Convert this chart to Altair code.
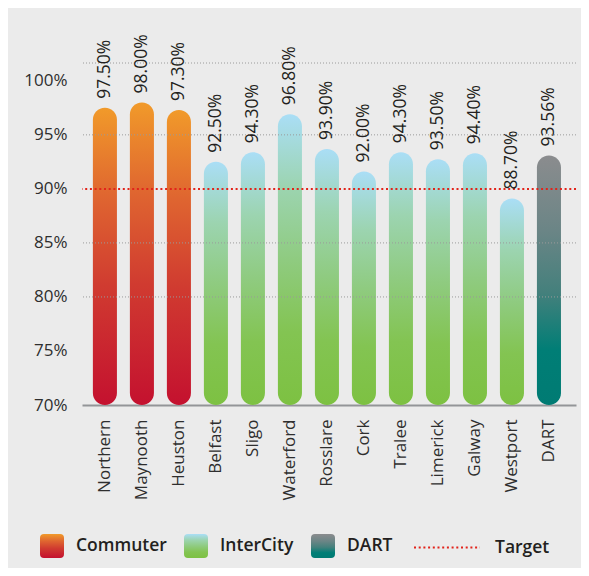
import json
import altair as alt
import pandas as pd

# ---------------- data ----------------
stations = ["Northern", "Maynooth", "Heuston", "Belfast", "Sligo", "Waterford",
            "Rosslare", "Cork", "Tralee", "Limerick", "Galway", "Westport", "DART"]
services = ["Commuter", "Commuter", "Commuter", "InterCity", "InterCity", "InterCity",
            "InterCity", "InterCity", "InterCity", "InterCity", "InterCity", "InterCity", "DART"]
# bar heights as drawn in the picture (percent)
bar_values = [97.5, 98.0, 97.3, 92.5, 93.4, 96.9, 93.7, 91.6, 93.4, 92.75, 93.3, 89.1, 93.1]
# printed value labels
value_labels = ["97.50%", "98.00%", "97.30%", "92.50%", "94.30%", "96.80%", "93.90%",
                "92.00%", "94.30%", "93.50%", "94.40%", "88.70%", "93.56%"]
legend_items = ["Commuter", "InterCity", "DART"]
target_name = ["Target"]
target_value = [90]
y_tick_values = [70, 75, 80, 85, 90, 95, 100]
Y_MIN, Y_MAX = 70, 101.65
grid_values = [80, 85, 95, Y_MAX]

# ---------------- styles ----------------
FONT = "Open Sans"
TEXT = "#231f20"
AXIS_TEXT = "#2e2e2e"
RED = "#e2231a"


def grad(stops):
    return {"gradient": "linear", "x1": 1, "x2": 1, "y1": 0, "y2": 1,
            "stops": [{"offset": o, "color": c} for o, c in stops]}


G_COMMUTER = grad([(0, "#f19a2a"), (0.3, "#df6530"), (0.6, "#d03b30"), (1, "#c4112f")])
G_INTERCITY = grad([(0, "#aadef6"), (0.25, "#9cd4b0"), (0.5, "#8fcb80"), (0.75, "#83c452"), (1, "#7dc142")])
G_DART = grad([(0, "#8b8c8e"), (0.3, "#6b8586"), (0.55, "#44807c"), (0.78, "#007e76"), (1, "#007b73")])

svc = "(datum.service || datum.value)"
fill_expr = (f"{svc} === 'Commuter' ? {json.dumps(G_COMMUTER)} : "
             f"{svc} === 'InterCity' ? {json.dumps(G_INTERCITY)} : {json.dumps(G_DART)}")

ROUND_SQUARE = ("M -0.67,-1 L 0.67,-1 Q 1,-1 1,-0.67 L 1,0.67 Q 1,1 0.67,1 "
                "L -0.67,1 Q -1,1 -1,0.67 L -1,-0.67 Q -1,-1 -0.67,-1 Z")

df = pd.DataFrame({"station": stations, "service": services,
                   "pct": bar_values, "label": value_labels})
grid_df = pd.DataFrame({"g": grid_values})
target_df = pd.DataFrame({"name": target_name, "t": target_value})

x_enc = alt.X("station:N", sort=stations,
              scale=alt.Scale(domain=stations, paddingInner=0.35, paddingOuter=0.35, align=0.42),
              axis=alt.Axis(title=None, labelAngle=270, labelFont=FONT, labelFontSize=17,
                            labelColor=AXIS_TEXT, ticks=False, tickSize=0, labelPadding=14,
                            domainColor="#939598", domainWidth=2, grid=False))
y_scale = alt.Scale(domain=[Y_MIN, Y_MAX], nice=False, zero=False)
y_enc = alt.Y("pct:Q", scale=y_scale,
              axis=alt.Axis(values=y_tick_values, labelExpr="datum.value + '%'", title=None,
                            grid=False, domain=False, ticks=False, tickSize=0, labelPadding=15,
                            labelFont=FONT, labelFontSize=17, labelColor=AXIS_TEXT))

bars = alt.Chart(df).mark_bar(cornerRadius=12).encode(
    x=x_enc,
    y=y_enc,
    y2=alt.datum(Y_MIN),
    fill=alt.value({"expr": fill_expr}),
    opacity=alt.Opacity("service:N", scale=alt.Scale(domain=legend_items, range=[1, 1]),
                        legend=alt.Legend(title=None, orient="none", direction="horizontal",
                                          legendX=-42, legendY=471, padding=0,
                                          symbolType=ROUND_SQUARE, symbolSize=576,
                                          symbolStrokeWidth=0, symbolOpacity=1,
                                          labelFont=FONT, labelFontSize=17.5, labelFontWeight=600,
                                          labelColor=TEXT, labelOffset=12, columnPadding=17,
                                          labelLimit=300)),
)

grid = alt.Chart(grid_df).mark_rule(color="#9a9a9a", strokeWidth=1, strokeDash=[1, 2]).encode(
    y=alt.Y("g:Q", scale=y_scale)
)

target = alt.Chart(target_df).mark_rule(color=RED, strokeWidth=2).encode(
    y=alt.Y("t:Q", scale=y_scale),
    strokeDash=alt.StrokeDash("name:N", scale=alt.Scale(domain=target_name, range=[[2, 2.7]]),
                              legend=alt.Legend(title=None, orient="none", direction="horizontal",
                                                legendX=331, legendY=450.5, padding=0,
                                                symbolType="stroke", symbolSize=4356,
                                                symbolStrokeColor=RED, symbolStrokeWidth=2,
                                                labelFont=FONT, labelFontSize=17.5,
                                                labelFontWeight=600, labelColor=TEXT,
                                                labelOffset=14)),
)

labels = alt.Chart(df).mark_text(angle=270, align="left", baseline="middle", dx=9,
                                 font=FONT, fontSize=17.5, color=TEXT).encode(
    x=alt.X("station:N", sort=stations),
    y=alt.Y("pct:Q", scale=y_scale),
    text="label:N",
)

chart = alt.layer(bars, grid, target, labels).properties(
    width=494, height=342,
    autosize=alt.AutoSizeParams(type="none"),
    padding={"left": 74, "top": 55, "right": 5, "bottom": 163},
    background="#ebebeb",
).configure_view(stroke=None)

chart.save("out.html", embed_options={"renderer": "svg", "actions": False})
